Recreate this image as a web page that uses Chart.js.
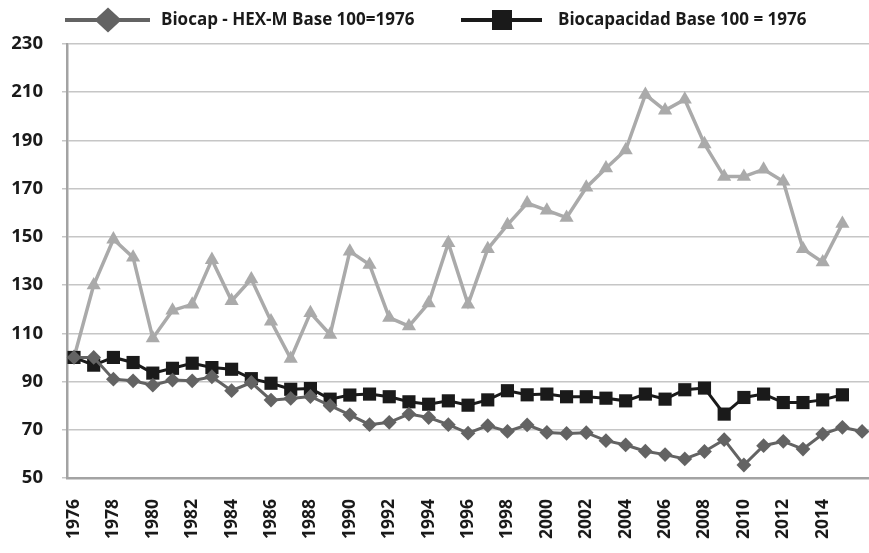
<!DOCTYPE html>
<html>
<head>
<meta charset="utf-8">
<script src="https://cdn.jsdelivr.net/npm/chart.js@4.4.0/dist/chart.umd.min.js"></script>
<style>
  html, body { margin: 0; padding: 0; background: #ffffff; }
  #wrap { width: 869px; height: 553px; }
</style>
</head>
<body>
<div id="wrap"><canvas id="c" width="869" height="553"></canvas></div>
<script>
const years = [1976,1977,1978,1979,1980,1981,1982,1983,1984,1985,1986,1987,1988,1989,1990,1991,1992,1993,1994,1995,1996,1997,1998,1999,2000,2001,2002,2003,2004,2005,2006,2007,2008,2009,2010,2011,2012,2013,2014,2015,2016];
const tickYears = [1976,1978,1980,1982,1984,1986,1988,1990,1992,1994,1996,1998,2000,2002,2004,2006,2008,2010,2012,2014];
const yTicks = [50,70,90,110,130,150,170,190,210,230];

const seriesNames = ["Biocap - HEX-M Base 100=1976", "Biocapacidad Base 100 = 1976", "Serie 3"];

const biocapHexM = [100,100,91,90.3,88.5,90.6,90.3,92,86.2,89.6,82.3,83,83.8,80,76.2,72.1,73.1,76.5,75.1,72.1,68.6,71.7,69.3,72,68.9,68.5,68.8,65.5,63.7,61.1,59.7,57.9,61,65.9,55.4,63.4,65.2,62,68.2,71,69.3];
const biocapacidad = [100,96.8,100,97.9,93.5,95.5,97.6,95.8,95.1,91.2,89.3,86.8,87.1,82.7,84.4,84.8,83.7,81.6,80.6,82,80.2,82.4,86.2,84.5,84.8,83.7,83.7,83.1,82,84.8,82.7,86.6,87.3,76.5,83.4,84.8,81.3,81.3,82.4,84.5,null];
const serie3 = [100,130,149,141.5,108,119.5,122,140.5,123.5,132.5,115,99.5,118.5,109.5,144,138.5,116.5,113,122.5,147.5,122,145,155,164,161,158,170.5,178.5,186,209,202.5,207,188.5,175,175,178,173,145,139.5,155.5,null];

const toPoints = (vals) => years.map((y, i) => ({x: y, y: vals[i]}));

const FONT = "'Open Sans', 'DejaVu Sans', sans-serif";
const C_DIA = '#636363';
const C_SQ = '#1a1a1a';
const C_TRI = '#aaaaaa';
const C_AXIS = '#a3a3a3';
const C_GRID = '#c6c6c6';

const legendPlugin = {
  id: 'customLegend',
  afterDraw(chart) {
    const ctx = chart.ctx;
    ctx.save();
    const cy = 20;
    // item 1
    ctx.strokeStyle = C_DIA; ctx.lineWidth = 4;
    ctx.beginPath(); ctx.moveTo(65, cy); ctx.lineTo(150, cy); ctx.stroke();
    ctx.fillStyle = C_DIA;
    ctx.beginPath(); ctx.moveTo(108, cy - 12.5); ctx.lineTo(121.5, cy); ctx.lineTo(108, cy + 12.5); ctx.lineTo(94.5, cy); ctx.closePath(); ctx.fill();
    // item 2
    ctx.strokeStyle = C_SQ; ctx.lineWidth = 4;
    ctx.beginPath(); ctx.moveTo(461, cy); ctx.lineTo(542, cy); ctx.stroke();
    ctx.fillStyle = C_SQ;
    ctx.fillRect(492, cy - 10, 20, 20);
    // texts
    ctx.fillStyle = '#1a1a1a';
    ctx.font = "700 17px " + FONT;
    ctx.textBaseline = 'middle';
    ctx.textAlign = 'left';
    ctx.fillText(seriesNames[0], 161, cy);
    ctx.fillText(seriesNames[1], 558, cy);
    ctx.restore();
  }
};

new Chart(document.getElementById('c'), {
  type: 'line',
  data: {
    datasets: [
      {
        label: seriesNames[0],
        data: toPoints(biocapHexM),
        borderColor: C_DIA,
        backgroundColor: C_DIA,
        borderWidth: 3,
        pointStyle: 'rectRot',
        pointRadius: 7.4,
        pointBorderWidth: 0,
        tension: 0
      },
      {
        label: seriesNames[1],
        data: toPoints(biocapacidad),
        borderColor: C_SQ,
        backgroundColor: C_SQ,
        borderWidth: 3,
        pointStyle: 'rect',
        pointRadius: 9.3,
        pointBorderWidth: 0,
        tension: 0
      },
      {
        label: seriesNames[2],
        data: toPoints(serie3),
        borderColor: C_TRI,
        backgroundColor: C_TRI,
        borderWidth: 3.5,
        pointStyle: 'triangle',
        pointRadius: 8.2,
        pointBorderWidth: 0,
        tension: 0
      }
    ]
  },
  options: {
    responsive: false,
    animation: false,
    devicePixelRatio: 1,
    clip: false,
    layout: { autoPadding: false, padding: { top: 44, left: 0, right: 0, bottom: 0 } },
    plugins: {
      legend: { display: false },
      tooltip: { enabled: false }
    },
    scales: {
      x: {
        type: 'linear',
        min: 1975.645,
        max: 2016.35,
        afterBuildTicks(scale) { scale.ticks = tickYears.map(v => ({value: v})); },
        afterFit(scale) { scale.height = 75; scale.paddingLeft = 0; scale.paddingRight = 0; },
        grid: { display: false, drawTicks: false },
        border: { display: true, color: C_AXIS, width: 2.5 },
        ticks: {
          autoSkip: false,
          minRotation: 90,
          maxRotation: 90,
          padding: 21,
          color: '#1a1a1a',
          font: { family: FONT, size: 17.5, weight: '700' },
          callback: (v) => String(v)
        }
      },
      y: {
        min: 50,
        max: 230,
        afterBuildTicks(scale) { scale.ticks = yTicks.map(v => ({value: v})); },
        afterFit(scale) { scale.width = 67; },
        grid: {
          color: (c) => c.tick && c.tick.value === 50 ? C_AXIS : C_GRID,
          lineWidth: 1.5,
          drawTicks: true,
          tickLength: 5,
          tickColor: C_GRID
        },
        border: { display: true, color: C_AXIS, width: 2.5 },
        ticks: {
          padding: 19,
          color: '#1a1a1a',
          font: { family: FONT, size: 18.5, weight: '700' }
        }
      }
    }
  },
  plugins: [legendPlugin]
});
</script>
</body>
</html>
